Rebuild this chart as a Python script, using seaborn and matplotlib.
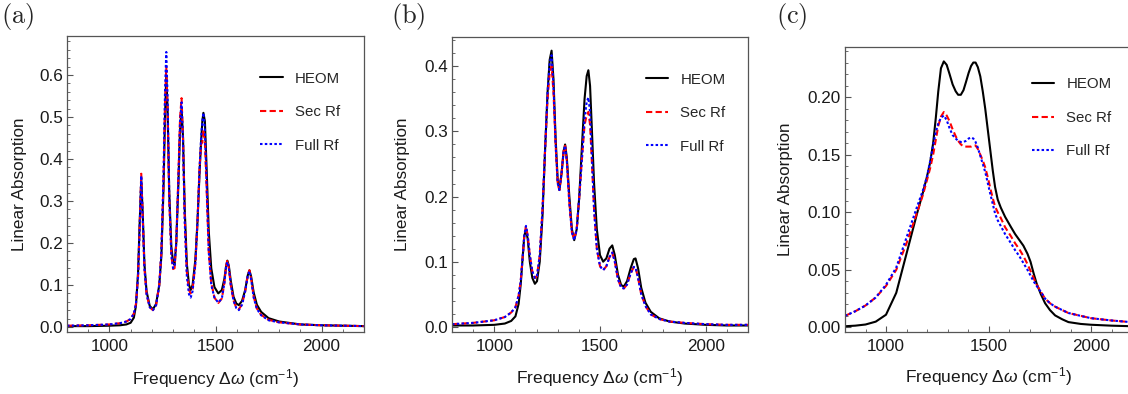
import numpy as np
import pandas as pd
import matplotlib
matplotlib.use("Agg")
import matplotlib.pyplot as plt
from matplotlib.ticker import MultipleLocator, FormatStrFormatter
import seaborn as sns

# ---------------- data ----------------
methods = ["HEOM", "Sec Rf", "Full Rf"]

freq_a = [800, 900, 1000, 1050, 1080, 1100, 1115, 1125, 1135, 1142,
          1150, 1157, 1165, 1175, 1190, 1205, 1220, 1235, 1245, 1255,
          1262, 1268, 1274, 1282, 1292, 1300, 1307, 1315, 1325, 1333,
          1340, 1347, 1355, 1365, 1375, 1383, 1392, 1405, 1415, 1425,
          1432, 1438, 1443, 1450, 1458, 1468, 1480, 1495, 1513, 1530,
          1542, 1550, 1556, 1563, 1572, 1585, 1598, 1610, 1625, 1640,
          1652, 1660, 1668, 1680, 1695, 1715, 1750, 1800, 1900, 2000,
          2100, 2200]
heom_a = [0.002, 0.002, 0.003, 0.004, 0.006, 0.010, 0.022, 0.05, 0.13, 0.24,
          0.35, 0.27, 0.15, 0.085, 0.05, 0.042, 0.055, 0.10, 0.17, 0.33,
          0.50, 0.60, 0.52, 0.32, 0.19, 0.155, 0.148, 0.20, 0.34, 0.47,
          0.52, 0.45, 0.28, 0.15, 0.10, 0.088, 0.10, 0.16, 0.25, 0.37,
          0.44, 0.49, 0.51, 0.49, 0.38, 0.23, 0.14, 0.095, 0.080, 0.088,
          0.115, 0.145, 0.158, 0.145, 0.11, 0.072, 0.056, 0.052, 0.062, 0.088,
          0.123, 0.135, 0.12, 0.082, 0.053, 0.036, 0.021, 0.013, 0.006, 0.004,
          0.003, 0.002]
secrf_a = [0.003, 0.004, 0.006, 0.009, 0.013, 0.019, 0.032, 0.055, 0.12, 0.23,
           0.365, 0.26, 0.14, 0.078, 0.047, 0.040, 0.052, 0.10, 0.18, 0.35,
           0.53, 0.62, 0.52, 0.30, 0.17, 0.138, 0.14, 0.20, 0.36, 0.50,
           0.545, 0.45, 0.26, 0.13, 0.088, 0.08, 0.09, 0.15, 0.25, 0.38,
           0.435, 0.44, 0.47, 0.44, 0.33, 0.18, 0.105, 0.07, 0.057, 0.068,
           0.105, 0.145, 0.16, 0.14, 0.10, 0.063, 0.046, 0.042, 0.054, 0.085,
           0.123, 0.135, 0.115, 0.072, 0.044, 0.029, 0.017, 0.011, 0.006, 0.004,
           0.003, 0.002]
fullrf_a = [0.003, 0.004, 0.006, 0.009, 0.013, 0.019, 0.032, 0.055, 0.12, 0.23,
            0.36, 0.26, 0.14, 0.078, 0.047, 0.040, 0.052, 0.10, 0.18, 0.36,
            0.56, 0.655, 0.55, 0.31, 0.17, 0.14, 0.145, 0.20, 0.35, 0.49,
            0.535, 0.44, 0.25, 0.12, 0.078, 0.07, 0.085, 0.15, 0.25, 0.38,
            0.45, 0.49, 0.51, 0.47, 0.34, 0.18, 0.10, 0.07, 0.058, 0.068,
            0.105, 0.145, 0.155, 0.14, 0.10, 0.063, 0.045, 0.040, 0.053, 0.085,
            0.122, 0.133, 0.113, 0.07, 0.043, 0.028, 0.016, 0.011, 0.006, 0.004,
            0.003, 0.002]

freq_b = [800, 900, 1000, 1050, 1080, 1100, 1115, 1125, 1135, 1142,
          1150, 1158, 1168, 1180, 1192, 1202, 1215, 1228, 1240, 1252,
          1262, 1271, 1280, 1290, 1300, 1308, 1318, 1328, 1335, 1343,
          1355, 1367, 1378, 1390, 1402, 1415, 1427, 1437, 1445, 1453,
          1462, 1472, 1485, 1500, 1515, 1530, 1545, 1558, 1570, 1585,
          1600, 1613, 1628, 1645, 1660, 1668, 1680, 1695, 1715, 1740,
          1780, 1830, 1900, 2000, 2100, 2200]
heom_b = [0.002, 0.002, 0.003, 0.005, 0.009, 0.016, 0.035, 0.065, 0.11, 0.14,
          0.149, 0.135, 0.10, 0.075, 0.066, 0.07, 0.10, 0.17, 0.27, 0.36,
          0.41, 0.424, 0.38, 0.29, 0.225, 0.21, 0.235, 0.27, 0.28, 0.26,
          0.20, 0.15, 0.133, 0.15, 0.20, 0.28, 0.35, 0.385, 0.394, 0.37,
          0.30, 0.22, 0.15, 0.11, 0.10, 0.105, 0.12, 0.125, 0.11, 0.08,
          0.064, 0.062, 0.07, 0.09, 0.104, 0.105, 0.09, 0.06, 0.037, 0.023,
          0.013, 0.008, 0.005, 0.003, 0.002, 0.002]
secrf_b = [0.004, 0.006, 0.010, 0.015, 0.022, 0.030, 0.048, 0.07, 0.11, 0.14,
           0.155, 0.14, 0.11, 0.085, 0.075, 0.078, 0.11, 0.18, 0.27, 0.35,
           0.39, 0.40, 0.36, 0.28, 0.22, 0.21, 0.235, 0.27, 0.278, 0.255,
           0.19, 0.145, 0.135, 0.15, 0.20, 0.26, 0.31, 0.325, 0.33, 0.31,
           0.25, 0.18, 0.12, 0.093, 0.087, 0.093, 0.107, 0.114, 0.10, 0.073,
           0.06, 0.059, 0.065, 0.082, 0.092, 0.091, 0.075, 0.05, 0.032, 0.019,
           0.012, 0.008, 0.006, 0.004, 0.003, 0.003]
fullrf_b = [0.004, 0.006, 0.010, 0.015, 0.022, 0.030, 0.048, 0.07, 0.11, 0.14,
            0.155, 0.14, 0.11, 0.085, 0.075, 0.078, 0.11, 0.18, 0.27, 0.36,
            0.405, 0.417, 0.37, 0.28, 0.22, 0.21, 0.235, 0.27, 0.278, 0.255,
            0.19, 0.145, 0.133, 0.15, 0.20, 0.26, 0.32, 0.345, 0.352, 0.33,
            0.26, 0.18, 0.12, 0.093, 0.087, 0.093, 0.107, 0.114, 0.10, 0.073,
            0.06, 0.059, 0.065, 0.082, 0.092, 0.091, 0.075, 0.05, 0.032, 0.019,
            0.012, 0.008, 0.006, 0.004, 0.003, 0.003]

freq_c = [800, 850, 900, 950, 1000, 1050, 1100, 1150, 1180, 1200,
          1215, 1230, 1243, 1255, 1268, 1282, 1296, 1310, 1325, 1340,
          1352, 1365, 1378, 1390, 1403, 1415, 1426, 1437, 1448, 1460,
          1472, 1484, 1497, 1510, 1521, 1532, 1545, 1560, 1581, 1610,
          1630, 1650, 1670, 1690, 1705, 1720, 1735, 1755, 1776, 1800,
          1825, 1860, 1890, 1950, 2000, 2100, 2200]
heom_c = [0.001, 0.0015, 0.0025, 0.005, 0.011, 0.030, 0.064, 0.098, 0.117, 0.131,
          0.143, 0.160, 0.182, 0.205, 0.225, 0.231, 0.228, 0.220, 0.211, 0.205,
          0.202, 0.202, 0.206, 0.213, 0.221, 0.227, 0.230, 0.230, 0.226, 0.218,
          0.205, 0.190, 0.171, 0.152, 0.136, 0.122, 0.111, 0.104, 0.096, 0.087,
          0.081, 0.076, 0.071, 0.064, 0.057, 0.047, 0.038, 0.029, 0.021, 0.015,
          0.0104, 0.007, 0.0046, 0.003, 0.0023, 0.0015, 0.001]
secrf_c = [0.010, 0.014, 0.019, 0.026, 0.036, 0.050, 0.073, 0.099, 0.115, 0.128,
           0.138, 0.150, 0.163, 0.175, 0.183, 0.187, 0.184, 0.179, 0.172, 0.166,
           0.162, 0.159, 0.157, 0.157, 0.157, 0.157, 0.158, 0.158, 0.155, 0.150,
           0.145, 0.139, 0.130, 0.120, 0.112, 0.105, 0.100, 0.095, 0.087, 0.079,
           0.073, 0.068, 0.062, 0.055, 0.049, 0.043, 0.037, 0.031, 0.025, 0.021,
           0.018, 0.015, 0.0125, 0.010, 0.008, 0.006, 0.0045]
fullrf_c = [0.010, 0.014, 0.019, 0.026, 0.037, 0.052, 0.078, 0.104, 0.119, 0.131,
            0.144, 0.158, 0.170, 0.177, 0.182, 0.184, 0.180, 0.173, 0.167, 0.164,
            0.162, 0.161, 0.161, 0.162, 0.164, 0.165, 0.164, 0.161, 0.156, 0.149,
            0.142, 0.135, 0.125, 0.115, 0.107, 0.099, 0.093, 0.088, 0.081, 0.073,
            0.067, 0.062, 0.056, 0.050, 0.045, 0.040, 0.036, 0.031, 0.025, 0.021,
            0.018, 0.015, 0.0125, 0.010, 0.008, 0.006, 0.0045]

panel_labels = ["(a)", "(b)", "(c)"]

# ---------------- styling ----------------
sns.set_theme(style="ticks")
plt.rcParams["font.family"] = ["Liberation Sans", "DejaVu Sans"]
plt.rcParams["mathtext.fontset"] = "custom"
plt.rcParams["mathtext.rm"] = "Liberation Sans"
plt.rcParams["mathtext.it"] = "Liberation Sans:italic"

palette = {"HEOM": "black", "Sec Rf": "#ff0000", "Full Rf": "#0000ff"}
dashes = {"HEOM": "", "Sec Rf": (3.0, 1.6), "Full Rf": (1.2, 1.1)}

fig = plt.figure(figsize=(11.28, 3.94), dpi=100)
W, H = 1128.0, 394.0

def frac(l, t, r, b):
    return [l / W, 1 - b / H, (r - l) / W, (b - t) / H]

axes_boxes = [frac(67, 36, 364, 332), frac(452, 37, 748, 332), frac(845, 47, 1132, 332)]
panels = [
    (freq_a, heom_a, secrf_a, fullrf_a, (-0.012, 0.693), 0.1, 0.02, "%.1f"),
    (freq_b, heom_b, secrf_b, fullrf_b, (-0.008, 0.445), 0.1, 0.02, "%.1f"),
    (freq_c, heom_c, secrf_c, fullrf_c, (-0.004, 0.2435), 0.05, 0.01, "%.2f"),
]
ylabel_x = [-0.135, -0.142, -0.181]
legend_pos = [(0.625, 0.905), (0.63, 0.905), (0.625, 0.92)]
label_x = [1, 391, 776]
TXT = "#1a1a1a"

for i, (box, pdata) in enumerate(zip(axes_boxes, panels)):
    fr, h, s, f, ylim, ymaj, ymin, fmt = pdata
    assert len(fr) == len(h) == len(s) == len(f)
    df = pd.concat([
        pd.DataFrame({"freq": fr, "abs": h, "method": "HEOM"}),
        pd.DataFrame({"freq": fr, "abs": s, "method": "Sec Rf"}),
        pd.DataFrame({"freq": fr, "abs": f, "method": "Full Rf"}),
    ], ignore_index=True)
    ax = fig.add_axes(box)
    sns.lineplot(data=df, x="freq", y="abs", hue="method", style="method",
                 hue_order=methods, style_order=methods, palette=palette,
                 dashes=dashes, estimator=None, sort=False, linewidth=1.5, ax=ax)
    ax.set_xlim(800, 2200)
    ax.set_ylim(*ylim)
    ax.xaxis.set_major_locator(MultipleLocator(500))
    ax.xaxis.set_minor_locator(MultipleLocator(100))
    ax.yaxis.set_major_locator(MultipleLocator(ymaj))
    ax.yaxis.set_minor_locator(MultipleLocator(ymin))
    ax.yaxis.set_major_formatter(FormatStrFormatter(fmt))
    ax.tick_params(which="both", direction="in", top=False, right=False,
                   color="#555555", labelsize=12.3, labelcolor=TXT)
    ax.tick_params(which="major", length=4, width=0.8)
    ax.tick_params(which="minor", length=2, width=0.6)
    ax.tick_params(axis="x", pad=5)
    ax.tick_params(axis="y", pad=3)
    for sp in ax.spines.values():
        sp.set_color("#555555")
        sp.set_linewidth(0.9)
    ax.set_xlabel(r"Frequency $\Delta\omega$ (cm$^{-1}$)", fontsize=12.5, color=TXT)
    ax.set_ylabel("Linear Absorption", fontsize=12.3, color=TXT)
    ax.xaxis.set_label_coords(0.5, -0.117)
    ax.yaxis.set_label_coords(ylabel_x[i], 0.5)
    ax.legend(loc="upper left", bbox_to_anchor=legend_pos[i], frameon=False,
              fontsize=10.8, handlelength=1.5, handletextpad=0.8,
              labelspacing=1.3, borderpad=0, title=None)
    fig.text(label_x[i] / W, 1 - 17 / H, r"$\mathrm{%s}$" % panel_labels[i],
             math_fontfamily="cm", fontsize=19, va="center", ha="left")

fig.savefig("out.png", dpi=100)
